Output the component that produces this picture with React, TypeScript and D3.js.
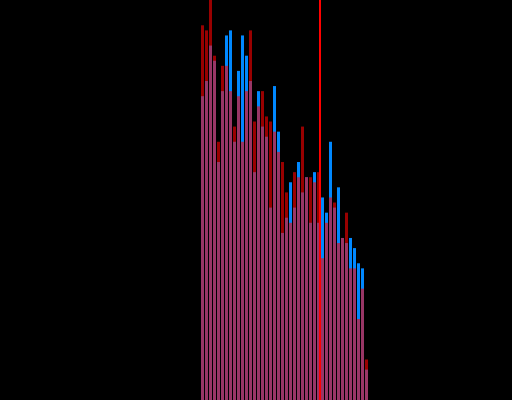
import React from "react";
import * as d3 from "d3";

const bins: number[] = Array.from({ length: 42 }, (_, i) => i);

const blueCounts: number[] = [
  60, 63, 70, 67, 47, 61, 72, 73, 51, 65,
  72, 68, 63, 45, 61, 54, 52, 38, 62, 53,
  33, 36, 43, 38, 47, 41, 44, 35, 45, 35,
  40, 37, 51, 38, 42, 32, 31, 32, 30, 27,
  26, 6,
];

const redCounts: number[] = [
  74, 73, 80, 68, 51, 66, 66, 61, 54, 60,
  51, 61, 73, 55, 58, 61, 56, 55, 53, 49,
  47, 41, 35, 45, 44, 54, 44, 44, 43, 45,
  28, 35, 40, 39, 31, 32, 37, 26, 26, 16,
  22, 8,
];

const markerBin = 29.75;

const W = 512;
const H = 400;

export default function App() {
  const x = d3.scaleLinear().domain([0, bins.length]).range([201, 201 + 4 * bins.length]);
  const y = d3.scaleLinear().domain([0, 79]).range([H, 0]);
  const bw = 3;

  return (
    <svg
      width={W}
      height={H}
      style={{ position: "fixed", left: 0, top: 0, background: "#000", display: "block" }}
    >
      <rect x={0} y={0} width={W} height={H} fill="#000" />
      <g>
        {bins.map((b) => (
          <rect
            key={"b" + b}
            x={x(b)}
            y={y(blueCounts[b])}
            width={bw}
            height={H - y(blueCounts[b])}
            fill="#0088ff"
          />
        ))}
      </g>
      <g>
        {bins.map((b) => (
          <rect
            key={"r" + b}
            x={x(b)}
            y={y(redCounts[b])}
            width={bw}
            height={H - y(redCounts[b])}
            fill="#ff0000"
            fillOpacity={0.6}
          />
        ))}
      </g>
      <line x1={x(markerBin)} x2={x(markerBin)} y1={0} y2={H} stroke="#ff0000" strokeWidth={2} />
    </svg>
  );
}
